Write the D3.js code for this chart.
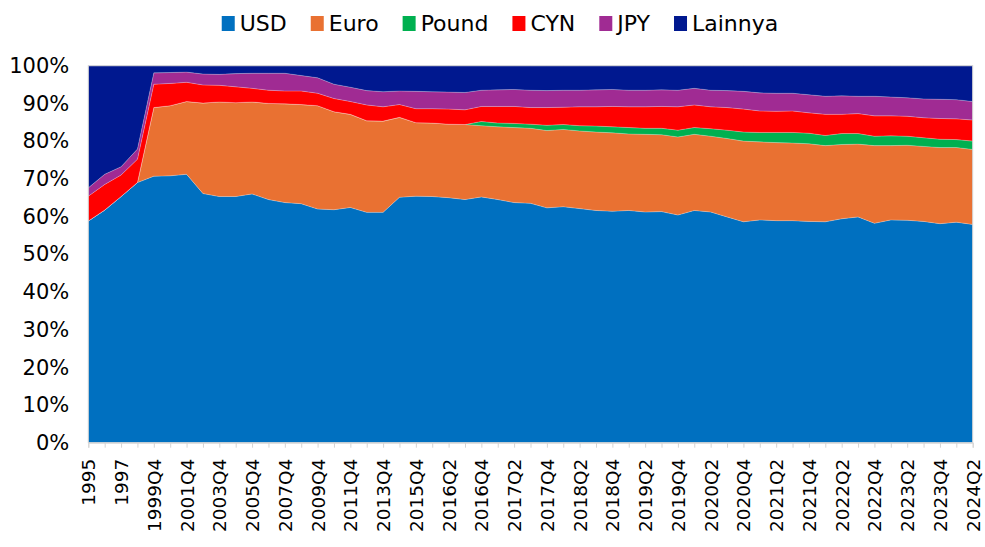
<!DOCTYPE html>
<html>
<head>
<meta charset="utf-8">
<script src="https://cdn.jsdelivr.net/npm/d3@7"></script>
<style>
  body { margin: 0; background: #fff; }
  text { font-family: "DejaVu Sans", sans-serif; fill: #000; }
</style>
</head>
<body>
<div id="chart"></div>
<script>
var width = 985,
    height = 547;

// kategori (tahunan 1995-2015Q4, kuartalan sejak 2016Q1)
var categories = ["1995", "1996", "1997", "1998",
  "1999Q4", "2000Q4", "2001Q4", "2002Q4", "2003Q4", "2004Q4", "2005Q4", "2006Q4",
  "2007Q4", "2008Q4", "2009Q4", "2010Q4", "2011Q4", "2012Q4", "2013Q4", "2014Q4", "2015Q4",
  "2016Q1", "2016Q2", "2016Q3", "2016Q4", "2017Q1", "2017Q2", "2017Q3", "2017Q4",
  "2018Q1", "2018Q2", "2018Q3", "2018Q4", "2019Q1", "2019Q2", "2019Q3", "2019Q4",
  "2020Q1", "2020Q2", "2020Q3", "2020Q4", "2021Q1", "2021Q2", "2021Q3", "2021Q4",
  "2022Q1", "2022Q2", "2022Q3", "2022Q4", "2023Q1", "2023Q2", "2023Q3", "2023Q4",
  "2024Q1", "2024Q2"];

var keys = ["USD", "Euro", "Pound", "CYN", "JPY", "Lainnya"];
var colors = ["#0070C0", "#E97132", "#00B050", "#FF0000", "#A02B93", "#00188F"];

var usd = [58.8, 61.7, 65.3, 69.0, 70.7, 70.8, 71.2, 66.1, 65.3, 65.3, 66.0, 64.5, 63.7, 63.4,
  62.0, 61.8, 62.4, 61.1, 61.1, 65.1, 65.4, 65.3, 65.0, 64.5, 65.2, 64.5, 63.7, 63.5,
  62.3, 62.6, 62.1, 61.6, 61.4, 61.6, 61.2, 61.3, 60.4, 61.6, 61.2, 59.9, 58.6, 59.1,
  58.9, 58.9, 58.7, 58.6, 59.4, 59.9, 58.2, 59.1, 59.0, 58.7, 58.1, 58.5, 57.9];
var euro = [0, 0, 0, 0, 18.2, 18.6, 19.3, 24.0, 25.1, 24.9, 24.4, 25.5, 26.2, 26.3,
  27.4, 26.0, 24.7, 24.3, 24.2, 21.2, 19.5, 19.5, 19.5, 19.9, 18.9, 19.3, 19.9, 19.9,
  20.5, 20.5, 20.6, 20.8, 20.8, 20.3, 20.6, 20.4, 20.7, 20.2, 20.1, 20.8, 21.4, 20.7,
  20.7, 20.6, 20.6, 20.2, 19.7, 19.3, 20.6, 19.7, 19.9, 19.9, 20.2, 19.8, 19.9];
var pound = [0, 0, 0, 0, 0, 0, 0, 0, 0, 0, 0, 0, 0, 0,
  0, 0, 0, 0, 0, 0, 0, 0, 0, 0, 1.1, 1.0, 1.1, 1.1,
  1.4, 1.3, 1.4, 1.6, 1.6, 1.7, 1.6, 1.7, 1.8, 1.8, 2.0, 2.2, 2.4, 2.5,
  2.7, 2.8, 2.8, 2.7, 2.9, 2.8, 2.5, 2.6, 2.4, 2.3, 2.2, 2.1, 2.2];
var cyn = [6.6, 6.8, 5.7, 6.2, 6.2, 5.9, 5.1, 4.8, 4.4, 4.2, 3.6, 3.5, 3.4, 3.6,
  3.3, 3.5, 3.4, 4.2, 3.8, 3.4, 3.7, 3.8, 4.0, 3.9, 4.0, 4.4, 4.5, 4.4,
  4.7, 4.6, 5.0, 5.1, 5.4, 5.5, 5.7, 5.8, 6.2, 6.0, 5.8, 6.0, 6.1, 5.7,
  5.6, 5.7, 5.4, 5.6, 5.1, 5.3, 5.4, 5.3, 5.3, 5.3, 5.5, 5.5, 5.6];
var jpy = [2.2, 2.7, 2.2, 2.7, 3.0, 2.9, 2.7, 2.9, 2.9, 3.5, 4.0, 4.5, 4.7, 4.1,
  4.1, 3.8, 3.8, 3.8, 4.0, 3.6, 4.6, 4.5, 4.5, 4.6, 4.3, 4.4, 4.5, 4.6,
  4.5, 4.5, 4.4, 4.5, 4.5, 4.4, 4.4, 4.4, 4.4, 4.4, 4.4, 4.5, 4.7, 4.8,
  4.8, 4.7, 4.8, 4.8, 4.9, 4.6, 5.2, 5.0, 4.9, 5.0, 5.1, 5.1, 4.9];
var lainnya = [32.4, 28.8, 26.8, 22.1, 1.9, 1.8, 1.7, 2.2, 2.3, 2.1, 2.0, 2.0, 2.0, 2.6,
  3.2, 4.9, 5.7, 6.6, 6.9, 6.7, 6.8, 6.9, 7.0, 7.1, 6.5, 6.4, 6.3, 6.5,
  6.6, 6.5, 6.5, 6.4, 6.3, 6.5, 6.5, 6.4, 6.5, 6.0, 6.5, 6.6, 6.8, 7.2,
  7.3, 7.3, 7.7, 8.1, 8.0, 8.1, 8.1, 8.3, 8.5, 8.8, 8.9, 9.0, 9.5];

var yTicks = [0, 10, 20, 30, 40, 50, 60, 70, 80, 90, 100];

var series = [usd, euro, pound, cyn, jpy, lainnya];
var data = categories.map(function(c, i) {
  var row = { cat: c };
  keys.forEach(function(k, j) { row[k] = series[j][i]; });
  return row;
});

var margin = { top: 65.7, right: 12.3, bottom: 104.3, left: 88.3 };

var svg = d3.select("#chart")
  .append("svg")
  .attr("width", width)
  .attr("height", height);

var x = d3.scalePoint()
  .domain(categories)
  .range([margin.left, width - margin.right]);

var y = d3.scaleLinear()
  .domain([0, 100])
  .range([height - margin.bottom, margin.top]);

var stack = d3.stack().keys(keys)
  .offset(d3.stackOffsetExpand);
var layers = stack(data);

var area = d3.area()
  .x(function(d) { return x(d.data.cat); })
  .y0(function(d) { return y(d[0] * 100); })
  .y1(function(d) { return y(d[1] * 100); });

svg.selectAll(".layer")
  .data(layers)
  .enter().append("path")
  .attr("class", "layer")
  .attr("d", area)
  .attr("fill", function(d, i) { return colors[i]; })
  .attr("stroke", "#fff")
  .attr("stroke-width", 0.4)
  .attr("stroke-opacity", 0.5);

// bingkai area plot
svg.append("rect")
  .attr("x", margin.left)
  .attr("y", margin.top)
  .attr("width", width - margin.left - margin.right)
  .attr("height", height - margin.top - margin.bottom)
  .attr("fill", "none")
  .attr("stroke", "#d4d4d4")
  .attr("stroke-width", 1);

// sumbu x
var xAxis = svg.append("g")
  .attr("transform", "translate(0," + y(0) + ")")
  .call(d3.axisBottom(x)
    .tickSize(5)
    .tickFormat(function(d, i) { return i % 2 === 0 ? d : ""; }));

xAxis.select(".domain").attr("stroke", "#d4d4d4");
xAxis.selectAll(".tick line").attr("stroke", "#d4d4d4");
xAxis.selectAll(".tick text")
  .attr("transform", "rotate(-90)")
  .attr("x", -16)
  .attr("y", 0)
  .attr("dy", "0.35em")
  .attr("text-anchor", "end")
  .style("font-size", "18.5px")
  .style("font-family", "'DejaVu Sans', sans-serif");

// sumbu y
var yAxis = svg.append("g")
  .attr("transform", "translate(" + margin.left + ",0)")
  .call(d3.axisLeft(y)
    .tickValues(yTicks)
    .tickSize(0)
    .tickPadding(19)
    .tickFormat(function(d) { return d + "%"; }));

yAxis.select(".domain").remove();
yAxis.selectAll(".tick text")
  .style("font-size", "21px")
  .style("font-family", "'DejaVu Sans', sans-serif");

// legenda
var legend = svg.append("g").attr("class", "legend");
var cx = 0;
keys.forEach(function(k, i) {
  var item = legend.append("g").attr("transform", "translate(" + cx + ",0)");
  item.append("rect")
    .attr("x", 0)
    .attr("y", -7)
    .attr("width", 13)
    .attr("height", 15)
    .attr("fill", colors[i]);
  var t = item.append("text")
    .attr("x", 18)
    .attr("y", 0)
    .attr("dy", "0.35em")
    .style("font-size", "22px")
    .text(k);
  cx += 18 + t.node().getComputedTextLength() + 24;
});
cx -= 24;
legend.attr("transform", "translate(" + (500 - cx / 2) + ",23)");
</script>
</body>
</html>
